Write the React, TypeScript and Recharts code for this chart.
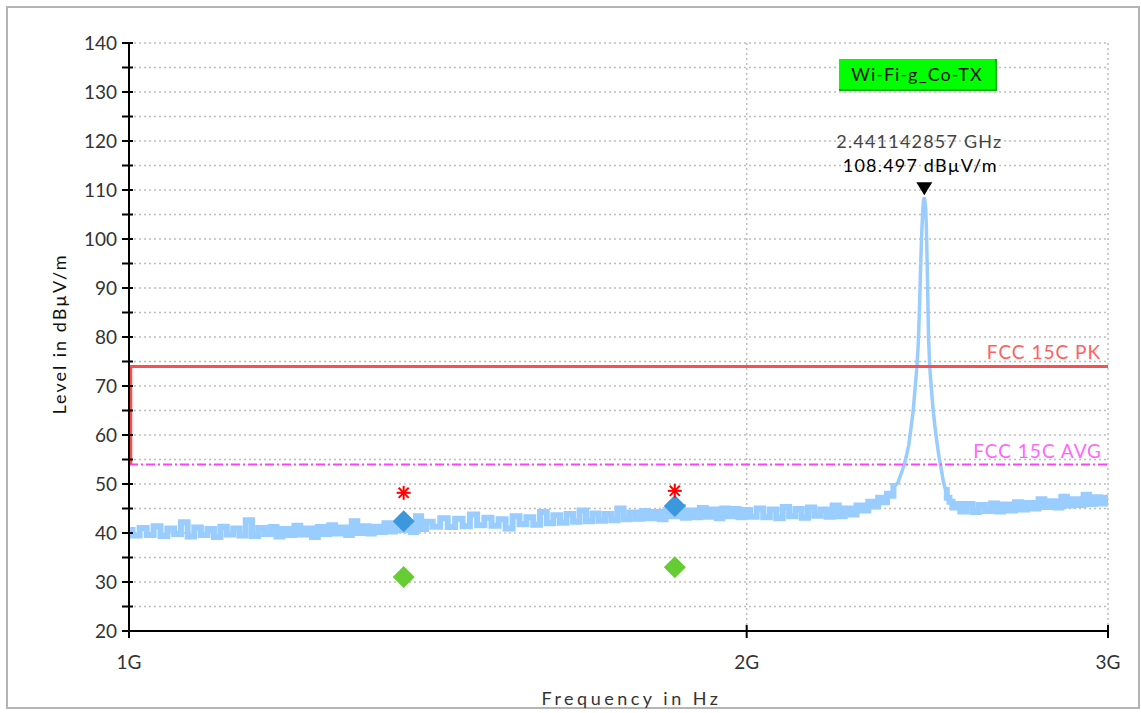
import {
  ComposedChart,
  Line,
  Scatter,
  XAxis,
  YAxis,
  CartesianGrid,
  ReferenceLine,
  Label,
} from "recharts";

// sweep frequencies (MHz) and levels (dBµV/m)
const freqMHz = [
  1000, 1008, 1016, 1024, 1032, 1040, 1048, 1056, 1064, 1072,
  1080, 1088, 1096, 1104, 1112, 1120, 1128, 1136, 1144, 1152,
  1160, 1168, 1176, 1184, 1192, 1200, 1208, 1216, 1224, 1232,
  1240, 1248, 1256, 1264, 1272, 1280, 1288, 1296, 1304, 1312,
  1320, 1328, 1336, 1344, 1352, 1360, 1368, 1376, 1384, 1392,
  1400,
  1412, 1424, 1436, 1448, 1460, 1472, 1484, 1496, 1508, 1520,
  1532, 1544, 1556, 1568, 1580, 1592, 1604, 1616, 1628, 1640,
  1652, 1664, 1676, 1688, 1700, 1712, 1724, 1736, 1748, 1760,
  1772, 1784, 1796, 1808, 1820, 1832, 1844, 1856, 1868, 1880,
  1892, 1904, 1916, 1928, 1940, 1952, 1964, 1976, 1988, 2000,
  2015, 2030, 2045, 2060, 2075, 2090, 2105, 2120, 2135, 2150,
  2165, 2180, 2195, 2210, 2225, 2240, 2255, 2270, 2285, 2300,
  2312, 2324, 2336, 2346, 2354, 2362, 2370, 2378, 2385, 2392,
  2399, 2405, 2411, 2416, 2421, 2425, 2428, 2431, 2434, 2437,
  2439, 2441, 2443, 2445, 2447, 2449, 2451, 2453, 2456, 2460,
  2465, 2470, 2476, 2482, 2488, 2494, 2500, 2507, 2515, 2524,
  2534,
  2550, 2568, 2586, 2604, 2622, 2640, 2658, 2676, 2694, 2712,
  2730, 2748, 2766, 2784, 2802, 2820, 2838, 2856, 2874, 2892,
  2910, 2928, 2946, 2964, 2982, 3000,
];

const levelDb = [
  40.6, 39.5, 41.0, 39.6, 41.4, 39.4, 40.9, 39.8, 42.2, 39.3,
  41.1, 39.6, 40.8, 39.2, 41.3, 39.7, 40.9, 39.5, 42.6, 39.4,
  41.0, 39.8, 41.2, 39.3, 40.8, 39.6, 41.5, 39.7, 40.9, 39.2,
  41.2, 39.8, 41.6, 39.9, 41.1, 39.6, 42.4, 40.0, 41.4, 39.9,
  41.3, 40.2, 42.0, 40.3, 41.8, 40.6, 42.1, 40.2, 43.4, 40.8,
  42.3,
  41.3, 43.0, 41.2, 42.9, 41.4, 43.8, 41.6, 43.1, 41.5, 42.8,
  40.9, 43.4, 41.8, 43.2, 41.7, 44.3, 42.0, 43.6, 42.1, 43.9,
  42.3, 44.6, 42.4, 44.0, 42.5, 43.9, 42.6, 45.0, 42.8, 44.2,
  42.9, 44.5, 43.0, 44.3, 42.8, 44.7, 43.4, 45.3, 43.1, 44.6,
  43.2, 45.1, 43.3, 44.8, 43.0, 45.0, 43.4, 44.9, 43.2, 44.7,
  43.3, 45.0, 43.2, 44.8, 43.0, 45.3, 43.4, 44.9, 43.1, 45.2,
  43.5, 44.8, 43.3, 45.6, 43.4, 45.0, 43.8, 45.6, 44.6, 46.4,
  45.4, 47.2, 46.3, 48.0, 47.6, 49.6, 50.3, 52.0, 53.5, 55.5,
  58.0, 61.5, 65.0, 69.5, 74.0, 79.0, 86.0, 94.0, 101.0, 106.0,
  107.8, 108.5, 107.6, 106.2, 102.0, 95.0, 87.0, 79.5, 74.0, 70.0,
  65.5, 62.0, 58.5, 55.5, 53.0, 50.5, 48.8, 47.2, 46.4, 45.2,
  45.9,
  44.4, 45.9, 44.3, 45.7, 44.5, 46.0, 44.4, 45.8, 44.6, 46.3,
  44.8, 46.1, 45.0, 46.9, 45.3, 46.5, 45.2, 47.4, 45.6, 46.9,
  45.7, 47.8, 45.9, 47.3, 46.0, 47.2,
];

// the carrier peak is drawn thinner than the noise floor
const peakStartMHz = 2362;
const peakEndMHz = 2500;

const yTicks = [20, 25, 30, 35, 40, 45, 50, 55, 60, 65, 70, 75, 80, 85, 90, 95, 100, 105, 110, 115, 120, 125, 130, 135, 140];
const xTicks = [1e9, 2e9, 3e9];
const xTickLabels = ["1G", "2G", "3G"];

const limitPk = 74;
const limitAvg = 54;

// final measurement points
const finalFreqMHz = [1361, 1845];
const peakLevels = [48.2, 48.6];
const qpLevels = [42.4, 45.5];
const avgLevels = [31.0, 33.0];

const markerFreqMHz = 2441.142857;
const markerLevel = 108.497;

const sweep = freqMHz.map((m, i) => ({
  f: m * 1e6,
  floor: m <= peakStartMHz || m >= peakEndMHz ? levelDb[i] : null,
  peak: m >= peakStartMHz && m <= peakEndMHz ? levelDb[i] : null,
}));
const stars = finalFreqMHz.map((m, i) => ({ f: m * 1e6, level: peakLevels[i] }));
const blues = finalFreqMHz.map((m, i) => ({ f: m * 1e6, level: qpLevels[i] }));
const greens = finalFreqMHz.map((m, i) => ({ f: m * 1e6, level: avgLevels[i] }));
const marker = [{ f: markerFreqMHz * 1e6, level: markerLevel }];

const FONT = "Lato, 'DejaVu Sans', sans-serif";

const YTick = (props: any) => {
  const { x, y, payload } = props;
  return (
    <g>
      <line x1={x - 7} x2={x + 4} y1={y} y2={y} stroke="#000" strokeWidth={2} />
      {payload.value % 10 === 0 && (
        <text x={x - 12} y={y} dy={7} textAnchor="end" fontSize={19} fill="#333" fontFamily={FONT}>
          {payload.value}
        </text>
      )}
    </g>
  );
};

const XTick = (props: any) => {
  const { x, y, payload } = props;
  const idx = xTicks.indexOf(payload.value);
  return (
    <g>
      <line x1={x} x2={x} y1={y - 6} y2={y + 7} stroke="#000" strokeWidth={2} />
      <text x={x} y={y + 38} textAnchor="middle" fontSize={19} fill="#333" fontFamily={FONT}>
        {xTickLabels[idx]}
      </text>
    </g>
  );
};

const Diamond = (color: string) => (props: any) => {
  const { cx, cy } = props;
  const r = 11;
  return (
    <polygon
      points={`${cx},${cy - r} ${cx + r},${cy} ${cx},${cy + r} ${cx - r},${cy}`}
      fill={color}
    />
  );
};

const Star = (props: any) => {
  const { cx, cy } = props;
  const r = 7;
  const d = r * 0.72;
  return (
    <g stroke="#ff0000" strokeWidth={2}>
      <line x1={cx - r} x2={cx + r} y1={cy} y2={cy} />
      <line x1={cx} x2={cx} y1={cy - r} y2={cy + r} />
      <line x1={cx - d} x2={cx + d} y1={cy - d} y2={cy + d} />
      <line x1={cx - d} x2={cx + d} y1={cy + d} y2={cy - d} />
    </g>
  );
};

const Marker = (props: any) => {
  const { cx, cy } = props;
  return (
    <g fontFamily={FONT}>
      <polygon points={`${cx - 8},${cy - 15} ${cx + 8},${cy - 15} ${cx},${cy - 2}`} fill="#000" />
      <text x={cx - 5} y={cy - 49} textAnchor="middle" fontSize={18} fill="#444" letterSpacing={1.2}>
        {`${markerFreqMHz / 1000} GHz`}
      </text>
      <text x={cx - 4} y={cy - 25} textAnchor="middle" fontSize={18} fill="#000" letterSpacing={1.2}>
        {`${markerLevel} dBµV/m`}
      </text>
    </g>
  );
};

export default function App() {
  return (
    <div style={{ position: "absolute", left: 0, top: 0, width: 1141, height: 713, overflow: "hidden", background: "#fff" }}>
      <div
        style={{
          position: "absolute",
          left: 6,
          top: 6,
          width: 1130,
          height: 699,
          border: "2px solid #b4b4b4",
        }}
      />
      <ComposedChart
        width={1141}
        height={713}
        data={sweep}
        margin={{ top: 43, right: 33, bottom: 0, left: 0 }}
        style={{ position: "absolute", left: 0, top: 0 }}
      >
        <CartesianGrid stroke="#bdbdbd" strokeDasharray="2 3" strokeWidth={1.5} />
        <XAxis
          dataKey="f"
          type="number"
          scale="log"
          domain={[1e9, 3e9]}
          ticks={xTicks}
          interval={0}
          allowDataOverflow
          height={82}
          tickSize={0}
          tickMargin={0}
          tickLine={false}
          axisLine={{ stroke: "#000", strokeWidth: 2 }}
          tick={<XTick />}
        >
          <Label
            value="Frequency in Hz"
            position="center"
            dx={13}
            dy={27}
            fontSize={18}
            fill="#333"
            letterSpacing={3.5}
            fontFamily={FONT}
          />
        </XAxis>
        <YAxis
          type="number"
          domain={[20, 140]}
          ticks={yTicks}
          interval={0}
          allowDataOverflow
          width={129}
          tickSize={0}
          tickMargin={0}
          tickLine={false}
          axisLine={{ stroke: "#000", strokeWidth: 2 }}
          tick={<YTick />}
        >
          <Label
            value="Level in dBµV/m"
            angle={-90}
            position="center"
            dx={-5}
            dy={-3}
            fontSize={18}
            fill="#111"
            letterSpacing={2}
            fontFamily={FONT}
          />
        </YAxis>
        <Line
          dataKey="floor"
          type="step"
          stroke="#99ccff"
          strokeWidth={6}
          dot={false}
          activeDot={false}
          connectNulls={false}
          isAnimationActive={false}
        />
        <Line
          dataKey="peak"
          type="linear"
          stroke="#99ccff"
          strokeWidth={3.5}
          dot={false}
          activeDot={false}
          connectNulls={false}
          isAnimationActive={false}
        />
        <ReferenceLine
          y={limitAvg}
          stroke="#ff40ff"
          strokeWidth={2}
          strokeDasharray="9 3 2 3"
          label={{
            value: "FCC 15C AVG",
            position: "insideBottomRight",
            offset: 6,
            fill: "#ff66ff",
            fontSize: 19,
            letterSpacing: 1,
            fontFamily: FONT,
          }}
        />
        <ReferenceLine
          segment={[
            { x: 1.002e9, y: limitAvg },
            { x: 1.002e9, y: limitPk },
          ]}
          stroke="#ff4c4c"
          strokeWidth={3}
        />
        <ReferenceLine
          y={limitPk}
          stroke="#ff4c4c"
          strokeWidth={3}
          label={{
            value: "FCC 15C PK",
            position: "insideBottomRight",
            offset: 7,
            fill: "#ff6060",
            fontSize: 19,
            letterSpacing: 1,
            fontFamily: FONT,
          }}
        />
        <Scatter data={greens} dataKey="level" shape={Diamond("#66cc33")} isAnimationActive={false} />
        <Scatter data={blues} dataKey="level" shape={Diamond("#3d97dd")} isAnimationActive={false} />
        <Scatter data={stars} dataKey="level" shape={Star} isAnimationActive={false} />
        <Scatter data={marker} dataKey="level" shape={Marker} isAnimationActive={false} />
      </ComposedChart>
      <div
        style={{
          position: "absolute",
          left: 839,
          top: 59,
          width: 158,
          height: 32,
          background: "#00ff00",
          borderRight: "2px solid #00b400",
          borderBottom: "2px solid #00b400",
          boxSizing: "border-box",
          fontFamily: FONT,
          fontSize: 18,
          letterSpacing: 1,
          color: "#111",
          display: "flex",
          alignItems: "center",
          justifyContent: "center",
        }}
      >
        Wi-Fi-g_Co-TX
      </div>
    </div>
  );
}
